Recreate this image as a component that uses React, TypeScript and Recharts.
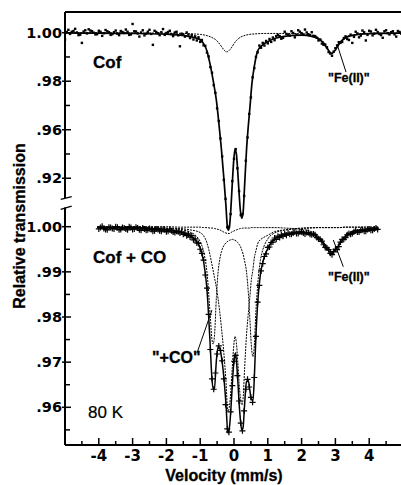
import React from "react";
import { ComposedChart, Line, Scatter, XAxis, YAxis, ReferenceLine } from "recharts";

// ---- data (velocity mm/s, relative transmission) ----

// upper panel "Cof": measured points
const topVel = [
  -5.0, -4.9, -4.8, -4.7, -4.6, -4.5, -4.4, -4.3, -4.2, -4.1, -4.0, -3.9, -3.8, -3.7, -3.6, -3.5, -3.4, -3.3, -3.2,
  -3.1, -3.0, -2.9, -2.8, -2.7, -2.6, -2.5, -2.4, -2.3, -2.2, -2.1, -2.0, -1.9, -1.8, -1.7, -1.6, -1.5, -1.4, -1.3,
  -1.25, -1.2, -1.15, -1.1, -1.05, -1.0, -0.95, -0.9, -0.85, -0.8, -0.75, -0.7, -0.65, -0.6, -0.55, -0.5, -0.45,
  -0.4, -0.35, -0.3, -0.25, -0.2, -0.15, -0.1, -0.05, 0.0, 0.05, 0.1, 0.15, 0.2, 0.25, 0.3, 0.35, 0.4, 0.45, 0.5,
  0.55, 0.6, 0.65, 0.7, 0.75, 0.8, 0.85, 0.9, 0.95, 1.0, 1.05, 1.1, 1.15, 1.2, 1.25,
  1.3, 1.4, 1.5, 1.6, 1.7, 1.8, 1.9, 2.0, 2.1, 2.2, 2.3, 2.4, 2.5, 2.6, 2.7, 2.8, 2.9, 3.0, 3.1, 3.2, 3.3, 3.4,
  3.5, 3.6, 3.7, 3.8, 3.9, 4.0, 4.1, 4.2, 4.3, 4.4, 4.5, 4.6, 4.7, 4.8, 4.9, 5.0,
];
const topObs = [
  0.9972, 1.0012, 1.0004, 1.0016, 0.999, 0.9958, 1.001, 1.0014, 1.0006, 0.9993, 1.0008, 0.9987, 1.0011, 1.0002,
  0.9994, 1.0009, 0.999, 1.0003, 1.0013, 0.9991, 1.0036, 1.0005, 0.9984, 1.001, 0.9996, 1.0012, 0.995, 1.0003,
  0.999, 1.0015, 0.9999, 1.0008, 0.9986, 1.0004, 0.9944, 0.9993, 1.0001, 0.9978,
  0.999, 0.9972, 0.9985, 0.9968, 0.9981, 0.9962, 0.997, 0.9948, 0.9946, 0.9918, 0.9902, 0.9858, 0.9835, 0.9784,
  0.9752, 0.9688, 0.9636, 0.9564, 0.949, 0.9393, 0.9315, 0.9198, 0.92, 0.9252, 0.9388, 0.948, 0.952, 0.9441,
  0.9347, 0.9248, 0.9252, 0.9327, 0.9472, 0.9568, 0.9665, 0.9733, 0.9816, 0.9854, 0.99, 0.9919, 0.9947, 0.9938,
  0.9958, 0.9947, 0.9966, 0.9956, 0.9974, 0.9962, 0.998, 0.9969, 0.9986,
  0.9991, 0.9975, 1.0004, 0.9992, 1.0006, 0.9981, 1.001, 0.9998, 1.0013, 0.9994, 1.0002, 0.9986, 0.9968, 0.9955,
  0.9951, 0.992, 0.9905, 0.9936, 0.9961, 0.9962, 0.9985, 0.997, 0.9958, 1.0004, 0.9981, 1.0009, 0.9968, 1.0008,
  0.9989, 1.0012, 0.9995, 0.9979, 1.001, 0.9993, 1.0006, 0.9984, 1.0003, 0.9997,
];
// upper panel: in-between channels on the wings
const topVelMid = [
  -4.95, -4.85, -4.75, -4.65, -4.55, -4.45, -4.35, -4.25, -4.15, -4.05, -3.95, -3.85, -3.75, -3.65, -3.55, -3.45,
  -3.35, -3.25, -3.15, -3.05, -2.95, -2.85, -2.75, -2.65, -2.55, -2.45, -2.35, -2.25, -2.15, -2.05, -1.95, -1.85,
  -1.75, -1.65, -1.55, -1.45, -1.35,
  1.35, 1.45, 1.55, 1.65, 1.75, 1.85, 1.95, 2.05, 2.15, 2.25, 2.35, 2.45, 2.55, 2.65, 2.75, 2.85, 2.95, 3.05,
  3.15, 3.25, 3.35, 3.45, 3.55, 3.65, 3.75, 3.85, 3.95, 4.05, 4.15, 4.25, 4.35, 4.45, 4.55, 4.65, 4.75, 4.85, 4.95,
];
const topObsMid = [
  1.0003, 0.9995, 1.0007, 1.0001, 0.9992, 1.0005, 0.9997, 1.0009, 1.0, 0.9994, 1.0004, 0.9998, 1.0006, 0.9991,
  1.0002, 0.9996, 1.0007, 0.9999, 1.0004, 0.9993, 1.0006, 0.9997, 1.0001, 0.9989, 1.0004, 0.9995, 1.0008, 0.9998,
  1.0002, 0.9991, 1.0003, 0.9994, 1.0001, 0.9989, 0.9996, 0.9984, 0.9992,
  0.9986, 0.9979, 0.9995, 0.9988, 0.9999, 0.9992, 1.0004, 0.9993, 1.0001, 0.999, 0.9987, 0.9979, 0.9972, 0.995,
  0.994, 0.9914, 0.9922, 0.9947, 0.9958, 0.9978, 0.9974, 0.9992, 0.9983, 0.9997, 0.9988, 1.0002, 0.9991, 1.0005,
  0.9996, 1.0003, 0.999, 1.0006, 0.9998, 1.0002, 0.9993, 1.0007, 0.9996,
];

// upper panel: total fit
const topFitVel = [
  -5.0, -4.0, -3.0, -2.0, -1.6, -1.3, -1.1, -1.0, -0.9, -0.8, -0.7, -0.6, -0.52, -0.45, -0.37, -0.3, -0.24, -0.2,
  -0.17, -0.13, -0.09, -0.05, -0.01, 0.03, 0.07, 0.11, 0.15, 0.19, 0.23, 0.27, 0.31, 0.37, 0.42, 0.47, 0.53, 0.6,
  0.7, 0.85, 1.0, 1.2, 1.5, 2.0, 2.3, 2.5, 2.65, 2.77, 2.89, 3.0, 3.12, 3.3, 3.5, 4.0, 5.0,
];
const topFit = [
  0.9999, 0.9998, 0.9997, 0.9994, 0.999, 0.9984, 0.9977, 0.9971, 0.9955, 0.9925, 0.9865, 0.979, 0.972, 0.963,
  0.9516, 0.94, 0.929, 0.9205, 0.9186, 0.9205, 0.928, 0.938, 0.947, 0.952, 0.95, 0.943, 0.934, 0.9265, 0.9235,
  0.926, 0.936, 0.9516, 0.961, 0.969, 0.979, 0.986, 0.9925, 0.995, 0.9963, 0.9976, 0.9985, 0.999, 0.9985, 0.9974,
  0.9957, 0.9932, 0.9914, 0.9929, 0.9956, 0.9979, 0.9989, 0.9996, 0.9998,
];

// upper panel: "Fe(II)" sub-spectrum
const topFeVel = [
  -5.0, -3.0, -2.0, -1.5, -1.2, -1.0, -0.8, -0.65, -0.55, -0.45, -0.36, -0.29, -0.22, -0.15, -0.08, 0.0, 0.1, 0.2,
  0.35, 0.6, 1.0, 1.6, 2.0, 2.3, 2.5, 2.65, 2.77, 2.89, 3.0, 3.12, 3.3, 3.5, 4.0, 5.0,
];
const topFe = [
  1.0, 0.9999, 0.9998, 0.9997, 0.9995, 0.9993, 0.9988, 0.998, 0.9972, 0.9958, 0.9941, 0.9928, 0.9921, 0.9926,
  0.9937, 0.9955, 0.9972, 0.9982, 0.999, 0.9995, 0.9997, 0.9997, 0.9995, 0.999, 0.9979, 0.9962, 0.9936, 0.9916,
  0.9932, 0.9959, 0.9981, 0.999, 0.9997, 0.9999,
];

// lower panel "Cof + CO": measured points
const botVel = [
  -4.0, -3.9, -3.8, -3.7, -3.6, -3.5, -3.4, -3.3, -3.2, -3.1, -3.0, -2.9, -2.8, -2.7, -2.6, -2.5, -2.4, -2.3, -2.2,
  -2.1, -2.0, -1.9, -1.8, -1.7, -1.6,
  -1.55, -1.5, -1.45, -1.4, -1.35, -1.3, -1.25, -1.2, -1.15, -1.1, -1.05, -1.0, -0.95, -0.9, -0.85, -0.8, -0.75,
  -0.7, -0.65, -0.6, -0.55, -0.5, -0.45, -0.4, -0.35, -0.3, -0.25, -0.2, -0.15, -0.1, -0.05, 0.0, 0.05, 0.1, 0.15,
  0.2, 0.25, 0.3, 0.35, 0.4, 0.45, 0.5, 0.55, 0.6, 0.65, 0.7, 0.75, 0.8, 0.85, 0.9, 0.95, 1.0, 1.05, 1.1, 1.15,
  1.2, 1.25, 1.3, 1.35, 1.4, 1.45, 1.5, 1.55,
  1.6, 1.7, 1.8, 1.9, 2.0, 2.1, 2.2, 2.3, 2.4, 2.5, 2.6, 2.7, 2.8, 2.9, 3.0, 3.1, 3.2, 3.3, 3.4, 3.5, 3.6, 3.7,
  3.8, 3.9, 4.0, 4.1, 4.2, 4.25,
];
const botObs = [
  0.9995, 1.0001, 0.9994, 0.9999, 0.9996, 1.0, 0.9993, 0.9998, 0.9995, 1.0, 0.9994, 0.9999, 0.9993, 0.9997,
  0.9992, 0.9996, 0.999, 0.9995, 0.9991, 0.9994, 0.9989, 0.9993, 0.9988, 0.999, 0.9986,
  0.9988, 0.9983, 0.9986, 0.998, 0.9984, 0.9977, 0.998, 0.9971, 0.9973, 0.9964, 0.9963, 0.995, 0.9941, 0.9926,
  0.9893, 0.9864, 0.9806, 0.9728, 0.9663, 0.964, 0.9676, 0.9718, 0.9736, 0.9726, 0.9703, 0.9663, 0.9606, 0.9552,
  0.9545, 0.959, 0.9648, 0.9702, 0.9715, 0.967, 0.9614, 0.9565, 0.9548, 0.9592, 0.964, 0.9662, 0.9645, 0.9622,
  0.9611, 0.9666, 0.9757, 0.9833, 0.987, 0.9902, 0.9918, 0.9934, 0.994, 0.9954, 0.9955, 0.9965, 0.9966, 0.9975,
  0.9972, 0.9979, 0.9976, 0.9982, 0.9979, 0.9984, 0.9981,
  0.9986, 0.9983, 0.9988, 0.9985, 0.9989, 0.9984, 0.9987, 0.9982, 0.9982, 0.9973, 0.9968, 0.9954, 0.9949, 0.9938,
  0.995, 0.9956, 0.9972, 0.9976, 0.9985, 0.9985, 0.9991, 0.9988, 0.9993, 0.999, 0.9995, 0.9992, 0.9997, 0.9994,
];
// lower panel: in-between channels on the wings
const botVelMid = [
  -3.95, -3.85, -3.75, -3.65, -3.55, -3.45, -3.35, -3.25, -3.15, -3.05, -2.95, -2.85, -2.75, -2.65, -2.55, -2.45,
  -2.35, -2.25, -2.15, -2.05, -1.95, -1.85, -1.75, -1.65,
  1.65, 1.75, 1.85, 1.95, 2.05, 2.15, 2.25, 2.35, 2.45, 2.55, 2.65, 2.75, 2.85, 2.95, 3.05, 3.15, 3.25, 3.35,
  3.45, 3.55, 3.65, 3.75, 3.85, 3.95, 4.05, 4.15,
];
const botObsMid = [
  0.9998, 0.9996, 0.9993, 0.9998, 0.9995, 0.9999, 0.9994, 0.9997, 0.9993, 0.9998, 0.9995, 0.9997, 0.9992, 0.9995,
  0.9993, 0.9994, 0.9991, 0.9994, 0.999, 0.9993, 0.999, 0.9991, 0.9987, 0.9989,
  0.9983, 0.9986, 0.9985, 0.9988, 0.9986, 0.9987, 0.9983, 0.9984, 0.9976, 0.9972, 0.996, 0.9953, 0.9941, 0.9945,
  0.9949, 0.9966, 0.9972, 0.9982, 0.9983, 0.9989, 0.9988, 0.9992, 0.999, 0.9994, 0.9992, 0.9995,
];

// lower panel: fitted curves, all on one velocity grid
const botFitVel = [
  -4.05, -3.0, -2.0, -1.6, -1.3, -1.1, -1.0, -0.9, -0.8, -0.7, -0.66, -0.62, -0.58, -0.52, -0.47, -0.42, -0.37,
  -0.3, -0.24, -0.18, -0.13, -0.09, -0.05, -0.01, 0.03, 0.07, 0.11, 0.15, 0.19, 0.23, 0.27, 0.31, 0.37, 0.42, 0.47,
  0.51, 0.56, 0.6, 0.65, 0.7, 0.78, 0.85, 1.0, 1.2, 1.5, 2.0, 2.3, 2.5, 2.65, 2.77, 2.89, 3.0, 3.12, 3.3, 3.5, 4.0,
  4.25,
];
const botFit = [
  0.9998, 0.9997, 0.9993, 0.9989, 0.998, 0.9967, 0.9953, 0.9923, 0.9861, 0.9731, 0.9672, 0.9641, 0.9642, 0.9705,
  0.9734, 0.9731, 0.9711, 0.9666, 0.961, 0.9543, 0.9559, 0.9598, 0.965, 0.9695, 0.9719, 0.9704, 0.9662, 0.9611,
  0.9572, 0.9549, 0.9556, 0.9602, 0.9657, 0.966, 0.9637, 0.9618, 0.9615, 0.9663, 0.976, 0.983, 0.9894, 0.9921,
  0.9952, 0.9973, 0.9982, 0.9987, 0.9984, 0.9975, 0.9962, 0.9949, 0.9941, 0.9948, 0.9961, 0.9978, 0.9987, 0.9994,
  0.9995,
];
const botCof = [
  0.9999, 0.9999, 0.9997, 0.9996, 0.9993, 0.999, 0.9987, 0.998, 0.9964, 0.9934, 0.9919, 0.9904, 0.9888, 0.9865,
  0.984, 0.981, 0.9775, 0.972, 0.966, 0.959, 0.9605, 0.964, 0.9689, 0.9734, 0.9757, 0.9743, 0.9703, 0.9655, 0.962,
  0.9605, 0.962, 0.968, 0.976, 0.9805, 0.9845, 0.988, 0.9905, 0.993, 0.9947, 0.9962, 0.9971, 0.9975, 0.9981,
  0.9989, 0.9993, 0.9997, 0.9998, 0.9998, 0.9998, 0.9998, 0.9998, 0.9998, 0.9998, 0.9999, 0.9999, 0.9999, 0.9999,
];
const botCO = [
  0.9999, 0.9999, 0.9996, 0.9994, 0.9988, 0.9978, 0.9967, 0.9945, 0.9899, 0.98, 0.9756, 0.974, 0.9756, 0.9845,
  0.99, 0.9928, 0.9945, 0.9958, 0.9964, 0.9968, 0.997, 0.9971, 0.9972, 0.9971, 0.997, 0.9968, 0.9965, 0.9961,
  0.9956, 0.9948, 0.9939, 0.9925, 0.99, 0.9858, 0.9795, 0.974, 0.9712, 0.9735, 0.9815, 0.987, 0.9925, 0.9948,
  0.9973, 0.9986, 0.9992, 0.9996, 0.9997, 0.9998, 0.9998, 0.9998, 0.9998, 0.9998, 0.9998, 0.9999, 0.9999, 0.9999,
  0.9999,
];
const botFe = [
  1.0, 1.0, 1.0, 0.9999, 0.9999, 0.9999, 0.9999, 0.9998, 0.9998, 0.9997, 0.9997, 0.9997, 0.9996, 0.9995, 0.9994,
  0.9993, 0.9991, 0.9988, 0.9986, 0.9985, 0.9985, 0.9987, 0.9989, 0.999, 0.9992, 0.9993, 0.9994, 0.9995, 0.9996,
  0.9996, 0.9997, 0.9997, 0.9997, 0.9997, 0.9997, 0.9998, 0.9998, 0.9998, 0.9998, 0.9998, 0.9998, 0.9998, 0.9998,
  0.9998, 0.9997, 0.9994, 0.9989, 0.9979, 0.9966, 0.9953, 0.9945, 0.9951, 0.9965, 0.9981, 0.9989, 0.9996, 0.9997,
];

// axes
const xTicks = [-4.5, -4, -3.5, -3, -2.5, -2, -1.5, -1, -0.5, 0, 0.5, 1, 1.5, 2, 2.5, 3, 3.5, 4, 4.5];
const topTicks = [1.0, 0.99, 0.98, 0.97, 0.96, 0.95, 0.94];
const topTickLabels = ["1.00", "", ".98", "", ".96", "", ".92"];
const botTicks = [1.0, 0.995, 0.99, 0.985, 0.98, 0.975, 0.97, 0.965, 0.96, 0.955];
const botTickLabels = ["1.00", "", ".99", "", ".98", "", ".97", "", ".96", ""];

// ---- layout ----
const W = 403;
const H = 485;
const LEFT = 65;
const AXIS_Y = 445;
const TOP_DOMAIN: [number, number] = [0.83, 1.00854];
const BOT_DOMAIN: [number, number] = [0.95165, 1.04755];
const FONT = "'Liberation Sans', Arial, sans-serif";
const TICK_FONT = "'DejaVu Sans', sans-serif";

const zip = (xs: number[], ys: number[]) => xs.map((v, i) => ({ v, t: ys[i] }));

const topObsData = [...zip(topVel, topObs), ...zip(topVelMid, topObsMid)];
const topFitData = zip(topFitVel, topFit);
const topFeData = zip(topFeVel, topFe);
const botObsData = [...zip(botVel, botObs), ...zip(botVelMid, botObsMid)];
const botFitData = zip(botFitVel, botFit);
const botCofData = zip(botFitVel, botCof);
const botCOData = zip(botFitVel, botCO);
const botFeData = zip(botFitVel, botFe);

function makeYTick(ticks: number[], labels: string[]) {
  return (props: any) => {
    const { y, payload } = props;
    const i = ticks.findIndex((t) => Math.abs(t - payload.value) < 1e-6);
    const label = i >= 0 ? labels[i] : "";
    return (
      <g>
        <line
          x1={label ? LEFT - 3 : LEFT}
          x2={LEFT + (label ? 6 : 5)}
          y1={y}
          y2={y}
          stroke="#000"
          strokeWidth={1.5}
        />
        {label && (
          <text
            x={LEFT - 3}
            y={y + 5}
            textAnchor="end"
            fontFamily={TICK_FONT}
            fontWeight="bold"
            fontSize={14.5}
            fill="#000"
          >
            {label}
          </text>
        )}
      </g>
    );
  };
}

function XTick(props: any) {
  const { x, payload } = props;
  const major = Number.isInteger(payload.value);
  return (
    <g>
      <line x1={x} x2={x} y1={AXIS_Y} y2={AXIS_Y - (major ? 7 : 4)} stroke="#000" strokeWidth={1.5} />
      {major && (
        <text x={x} y={461} textAnchor="middle" fontFamily={TICK_FONT} fontWeight="bold" fontSize={15} fill="#000">
          {payload.value}
        </text>
      )}
    </g>
  );
}

const dot = (p: any) => <rect x={p.cx - 1.2} y={p.cy - 1.2} width={2.4} height={2.4} fill="#000" />;
const cross = (p: any) => (
  <path d={`M${p.cx - 3},${p.cy}h6M${p.cx},${p.cy - 3}v6`} stroke="#000" strokeWidth={1.2} fill="none" />
);

const thin = { stroke: "#000", strokeWidth: 1, strokeDasharray: "2 1", dot: false, isAnimationActive: false } as const;

export default function App() {
  return (
    <div style={{ position: "fixed", left: 0, top: 0, width: 401, height: H, overflow: "hidden", background: "#fff" }}>
      <ComposedChart width={W} height={H} margin={{ top: 12, right: 0, bottom: 0, left: 0 }}>
        <XAxis
          dataKey="v"
          type="number"
          domain={[-5, 5]}
          allowDataOverflow
          ticks={xTicks}
          interval={0}
          tick={<XTick />}
          tickLine={false}
          axisLine={{ stroke: "#000", strokeWidth: 2 }}
          height={H - AXIS_Y}
        />
        <YAxis
          yAxisId="bot"
          dataKey="t"
          type="number"
          domain={BOT_DOMAIN}
          allowDataOverflow
          ticks={botTicks}
          interval={0}
          tick={makeYTick(botTicks, botTickLabels)}
          tickLine={false}
          axisLine={false}
          width={LEFT - 1}
        />
        <YAxis
          yAxisId="top"
          dataKey="t"
          type="number"
          domain={TOP_DOMAIN}
          allowDataOverflow
          ticks={topTicks}
          interval={0}
          tick={makeYTick(topTicks, topTickLabels)}
          tickLine={false}
          axisLine={false}
          width={1}
        />

        {/* frame: top border, broken y axis */}
        <ReferenceLine yAxisId="top" y={TOP_DOMAIN[1]} stroke="#000" strokeWidth={2} ifOverflow="visible" />
        <ReferenceLine
          yAxisId="top"
          segment={[{ x: -5, y: TOP_DOMAIN[1] }, { x: -5, y: 0.93184 }]}
          stroke="#000"
          strokeWidth={2}
          ifOverflow="visible"
        />
        <ReferenceLine
          yAxisId="bot"
          segment={[{ x: -5, y: 1.00425 }, { x: -5, y: BOT_DOMAIN[0] }]}
          stroke="#000"
          strokeWidth={2}
          ifOverflow="visible"
        />
        <ReferenceLine
          yAxisId="top"
          segment={[{ x: -5.127, y: 0.9313 }, { x: -4.802, y: 0.93237 }]}
          stroke="#000"
          strokeWidth={1.3}
          ifOverflow="visible"
        />
        <ReferenceLine
          yAxisId="bot"
          segment={[{ x: -5.127, y: 1.00385 }, { x: -4.802, y: 1.00458 }]}
          stroke="#000"
          strokeWidth={1.3}
          ifOverflow="visible"
        />

        {/* leader lines of the annotations */}
        <ReferenceLine
          yAxisId="top"
          segment={[{ x: 3.047, y: 0.99534 }, { x: 3.314, y: 0.9838 }]}
          stroke="#000"
          strokeWidth={1}
          ifOverflow="visible"
        />
        <ReferenceLine
          yAxisId="bot"
          segment={[{ x: 2.938, y: 0.99705 }, { x: 3.234, y: 0.99114 }]}
          stroke="#000"
          strokeWidth={1}
          ifOverflow="visible"
        />
        <ReferenceLine
          yAxisId="bot"
          segment={[{ x: -1.095, y: 0.97202 }, { x: -0.651, y: 0.98155 }]}
          stroke="#000"
          strokeWidth={1}
          ifOverflow="visible"
        />

        <Scatter yAxisId="top" data={topObsData} dataKey="t" shape={dot} isAnimationActive={false} />
        <Scatter yAxisId="bot" data={botObsData} dataKey="t" shape={cross} isAnimationActive={false} />

        <Line yAxisId="top" data={topFeData} dataKey="t" type="monotone" {...thin} />
        <Line
          yAxisId="top"
          data={topFitData}
          dataKey="t"
          type="monotone"
          stroke="#000"
          strokeWidth={1.7}
          dot={false}
          isAnimationActive={false}
        />
        <Line yAxisId="bot" data={botFeData} dataKey="t" type="monotone" {...thin} />
        <Line yAxisId="bot" data={botCOData} dataKey="t" type="monotone" {...thin} />
        <Line yAxisId="bot" data={botCofData} dataKey="t" type="monotone" {...thin} />
        <Line
          yAxisId="bot"
          data={botFitData}
          dataKey="t"
          type="monotone"
          stroke="#000"
          strokeWidth={1.5}
          dot={false}
          isAnimationActive={false}
        />
      </ComposedChart>

      <svg
        width={401}
        height={H}
        style={{ position: "absolute", left: 0, top: 0, pointerEvents: "none" }}
        fontFamily={FONT}
        fontWeight="bold"
        fill="#000"
        stroke="#000"
        strokeWidth={0.3}
      >
        <text x={25} y={226} fontSize={16} textAnchor="middle" transform="rotate(-90 25 226)">
          Relative transmission
        </text>
        <text x={224} y={481} fontSize={16} textAnchor="middle">
          Velocity (mm/s)
        </text>
        <text x={93} y={68} fontSize={17}>Cof</text>
        <text x={93} y={263} fontSize={17}>Cof + CO</text>
        <text x={88} y={418} fontSize={17} fontWeight="normal" strokeWidth={0.2}>80 K</text>
        <text x={328} y={82} fontSize={12.5}>"Fe(II)"</text>
        <text x={328} y={281} fontSize={12.5}>"Fe(II)"</text>
        <text x={152} y={363} fontSize={16}>"+CO"</text>
      </svg>
    </div>
  );
}
